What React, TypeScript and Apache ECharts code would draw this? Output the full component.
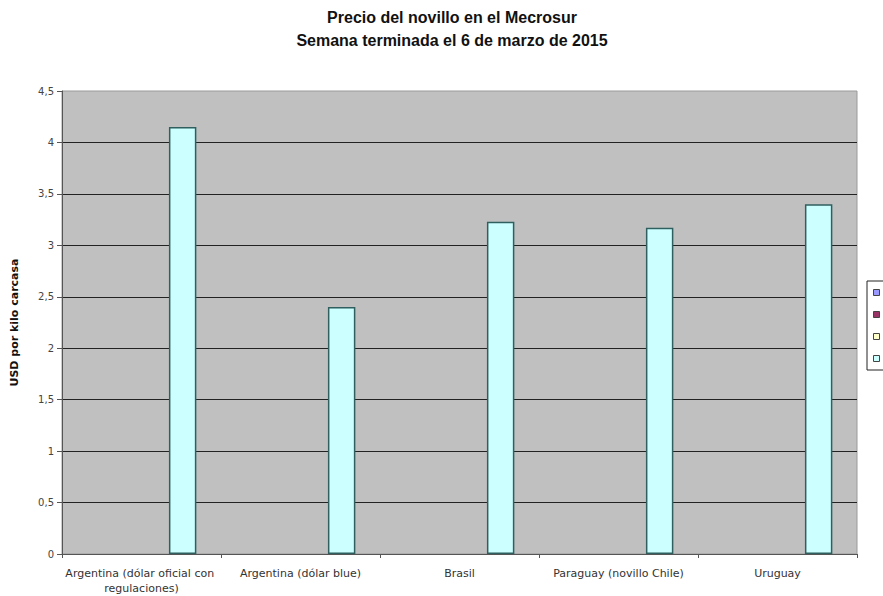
import React, { useEffect, useRef } from "react";
import * as echarts from "echarts";

const categories = [
  "Argentina (dólar oficial con regulaciones)",
  "Argentina (dólar blue)",
  "Brasil",
  "Paraguay (novillo Chile)",
  "Uruguay",
];
const seriesNames = ["Serie1", "Serie2", "Serie3", "Serie4"];
const seriesColors = ["#9999FF", "#993366", "#FFFFCC", "#CCFFFF"];
const emptyValues: (number | null)[] = [null, null, null, null, null];
const priceValues = [4.15, 2.4, 3.23, 3.17, 3.4];
const titleLines = ["Precio del novillo en el Mecrosur", "Semana terminada el 6 de marzo de 2015"];
const yAxisName = "USD por kilo carcasa";

const FONT = "'Liberation Sans', Arial, sans-serif";
const WIDE = "'DejaVu Sans', sans-serif";

export default function App() {
  const ref = useRef<HTMLDivElement>(null);
  useEffect(() => {
    if (!ref.current) return;
    const chart = echarts.init(ref.current, undefined, { renderer: "svg" });
    const seriesData = [emptyValues, emptyValues, emptyValues, priceValues];
    chart.setOption({
      animation: false,
      backgroundColor: "#ffffff",
      textStyle: { fontFamily: FONT },
      title: {
        text: titleLines.join("\n"),
        left: 447,
        textAlign: "center",
        top: 1,
        textStyle: {
          fontFamily: FONT,
          fontSize: 16,
          fontWeight: "bold",
          color: "#111",
          lineHeight: 23,
        },
      },
      legend: {
        orient: "vertical",
        left: 867,
        top: 281,
        itemWidth: 6,
        itemHeight: 6,
        itemGap: 15,
        padding: [8, 6, 8, 6],
        borderColor: "#222",
        borderWidth: 1,
        icon: "rect",
        formatter: () => "",
        itemStyle: { borderColor: "#444", borderWidth: 1 },
        data: seriesNames,
      },
      grid: {
        left: 62,
        right: 26,
        top: 91,
        bottom: 41,
        show: true,
        backgroundColor: "#C0C0C0",
        borderColor: "#9a9a9a",
        borderWidth: 1,
      },
      xAxis: {
        type: "category",
        data: categories,
        axisLine: { show: true, lineStyle: { color: "#555", width: 1 } },
        axisTick: { show: true, length: 4, lineStyle: { color: "#555" } },
        axisLabel: {
          interval: 0,
          fontFamily: WIDE,
          fontSize: 11,
          color: "#333",
          margin: 12,
          width: 158,
          overflow: "break",
          lineHeight: 15,
        },
      },
      yAxis: {
        type: "value",
        min: 0,
        max: 4.5,
        interval: 0.5,
        name: yAxisName,
        nameLocation: "middle",
        nameRotate: 90,
        nameGap: 42,
        nameTextStyle: { fontFamily: WIDE, fontSize: 11, fontWeight: "bold", color: "#111" },
        axisLine: { show: true, lineStyle: { color: "#555", width: 1 } },
        axisTick: { show: true, length: 5, lineStyle: { color: "#555" } },
        axisLabel: {
          fontFamily: WIDE,
          fontSize: 10,
          color: "#444",
          margin: 8,
          formatter: (v: number) => String(v).replace(".", ","),
        },
        splitLine: {
          show: true,
          showMaxLine: false,
          lineStyle: { color: "#222", width: 1 },
        },
      },
      series: seriesNames.map((name, i) => ({
        name,
        type: "bar",
        data: seriesData[i],
        barGap: "0%",
        barCategoryGap: "31%",
        itemStyle: {
          color: seriesColors[i],
          borderColor: "#2F5F5F",
          borderWidth: 1.5,
        },
      })),
    });
    return () => chart.dispose();
  }, []);
  return (
    <div
      ref={ref}
      style={{ position: "fixed", left: 0, top: 0, width: 883, height: 596 }}
    />
  );
}
